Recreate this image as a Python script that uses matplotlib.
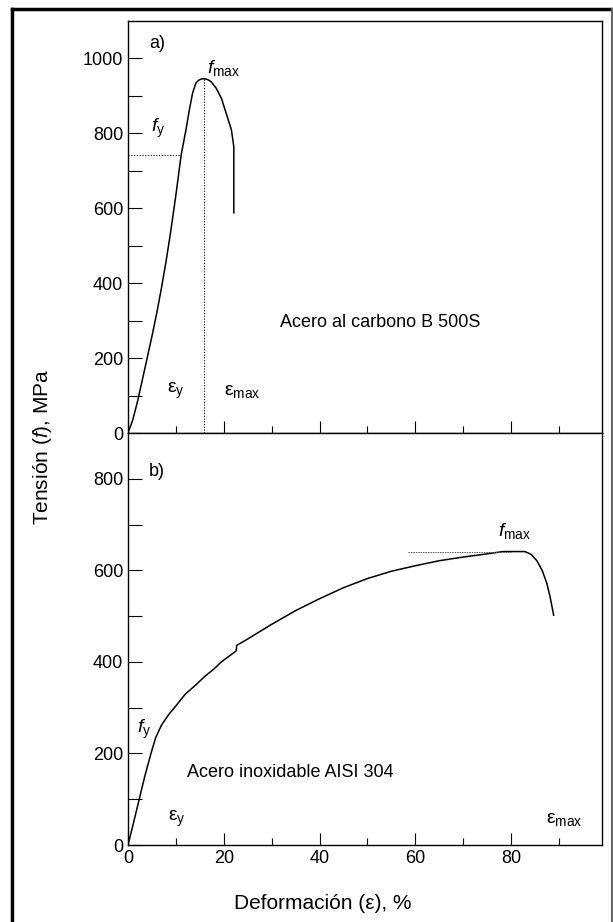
import numpy as np
import matplotlib.pyplot as plt
from matplotlib.lines import Line2D

plt.rcParams['font.family'] = ['Liberation Sans', 'DejaVu Sans']
plt.rcParams['mathtext.fontset'] = 'custom'
plt.rcParams['mathtext.rm'] = 'Liberation Sans'
plt.rcParams['mathtext.it'] = 'Liberation Sans:italic'
plt.rcParams['font.size'] = 13

# a) carbon steel B 500S
strain_a = [0, 1, 2, 3, 4, 5, 6, 7, 8, 9, 10, 11.1, 12.1, 12.8, 13.5, 14.2,
            14.8, 15.3, 15.8, 16.3, 16.9, 17.4, 18.4, 19.5, 20.5, 21.6, 22.1, 22.1]
stress_a = [0, 35, 85, 142, 200, 258, 320, 388, 462, 545, 635, 742, 809, 862, 908, 935,
            942, 945, 946, 945, 942, 937, 921, 894, 854, 809, 764, 588]
fy_a = 742
eps_fmax_a = 15.8
fmax_a = 946

# b) stainless steel AISI 304
strain_b = [0, 1, 2.3, 3.5, 4.8, 5.5, 5.8, 7, 8.5, 9.7, 12, 14.2, 16, 18, 19.5,
            22.6, 22.7, 25, 30, 35, 40, 45, 50, 55, 60, 65, 70, 75, 78.3,
            82.9, 84.2, 85.4, 86.5, 87.5, 88.2, 88.9]
stress_b = [0, 42, 98, 150, 200, 225, 235, 262, 285, 300, 330, 350, 368, 385, 400,
            424, 436, 450, 482, 512, 538, 562, 582, 598, 610, 621, 629, 636, 641,
            641, 635, 621, 600, 571, 540, 502]
fmax_b = 641
fmax_line_b = [58.4, 80]

fig = plt.figure(figsize=(6.13, 9.22), dpi=100)
ax1 = fig.add_axes([128/613, 1-433/922, 474/613, 412/922])
ax2 = fig.add_axes([128/613, 1-845/922, 474/613, 412/922], sharex=ax1)

for ax in (ax1, ax2):
    ax.tick_params(which='both', direction='in', right=False, top=False, width=0.8)
    ax.tick_params(axis='y', which='both', length=10)
    ax.tick_params(axis='x', which='major', length=9)
    ax.tick_params(axis='x', which='minor', length=5)
    ax.tick_params(axis='both', labelsize=13)
    for s in ax.spines.values():
        s.set_linewidth(1.0)

ax1.set_xlim(0, 99)
ax1.set_xticks(np.arange(0, 99, 20))
ax1.set_xticks(np.arange(10, 99, 20), minor=True)
ax1.tick_params(axis='x', labelbottom=False)

# top panel
ax1.plot(strain_a, stress_a, color='black', lw=1.1)
ax1.plot([0, 11.1], [fy_a, fy_a], color='black', lw=0.8, ls=(0, (1, 1.5)))
ax1.plot([eps_fmax_a, eps_fmax_a], [0, fmax_a], color='black', lw=0.8, ls=(0, (1, 1.5)))
ax1.set_ylim(0, 1100)
ax1.set_yticks(np.arange(0, 1001, 200))
ax1.set_yticks(np.arange(100, 1100, 200), minor=True)
ax1.text(4.4, 1040, 'a)', ha='left', va='center')
ax1.text(16.4, 975, r'$\mathit{f}_{\mathrm{max}}$', ha='left', va='center', fontsize=14)
ax1.text(4.8, 814, r'$\mathit{f}_{\mathrm{y}}$', ha='left', va='center', fontsize=14)
ax1.text(10, 112, r'ε$_{\mathrm{y}}$', ha='center', va='center', fontsize=14)
ax1.text(20, 112, r'ε$_{\mathrm{max}}$', ha='left', va='center', fontsize=14)
ax1.text(52.7, 295, 'Acero al carbono B 500S', ha='center', va='center')

# bottom panel
ax2.plot(strain_b, stress_b, color='black', lw=1.1)
ax2.plot(fmax_line_b, [fmax_b, fmax_b], color='#555555', lw=0.7, ls=(0, (1.5, 1)))
ax2.set_ylim(0, 900)
ax2.set_yticks(np.arange(0, 801, 200))
ax2.set_yticks(np.arange(100, 900, 200), minor=True)
ax2.text(4.4, 815, 'b)', ha='left', va='center')
ax2.text(77.3, 685, r'$\mathit{f}_{\mathrm{max}}$', ha='left', va='center', fontsize=14)
ax2.text(1.8, 252, r'$\mathit{f}_{\mathrm{y}}$', ha='left', va='center', fontsize=14)
ax2.text(10.3, 56, r'ε$_{\mathrm{y}}$', ha='center', va='center', fontsize=14)
ax2.text(87.3, 56, r'ε$_{\mathrm{max}}$', ha='left', va='center', fontsize=14)
ax2.text(33.8, 159, 'Acero inoxidable AISI 304', ha='center', va='center')

fig.text(43/613, 1-447/922, r'Tensión ($\mathit{f}$), MPa', rotation=90,
         ha='center', va='center', fontsize=15)
fig.text(323/613, 1-903/922, 'Deformación (ε), %', ha='center', va='center', fontsize=15)

# outer frame
fig.add_artist(Line2D([12/613, 12/613], [0, 1-9/922], transform=fig.transFigure,
                      color='black', lw=2.5))
fig.add_artist(Line2D([12/613, 612/613], [1-9/922, 1-9/922], transform=fig.transFigure,
                      color='black', lw=2.5))
fig.add_artist(Line2D([612/613, 612/613], [0, 1-9/922], transform=fig.transFigure,
                      color='#666666', lw=1.5))

fig.savefig('out.png', dpi=100)
